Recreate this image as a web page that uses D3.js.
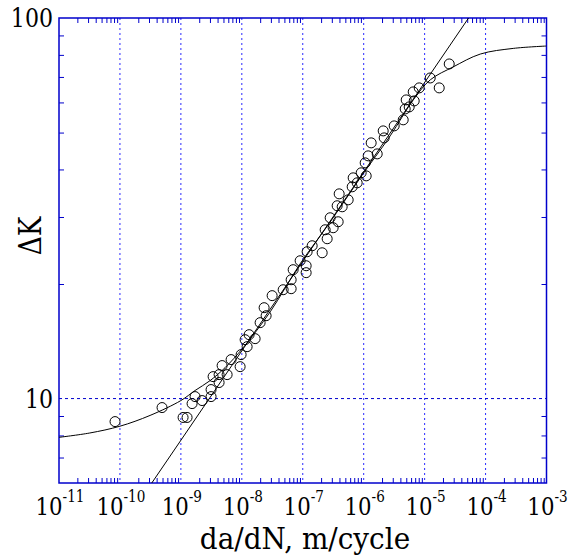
<!DOCTYPE html>
<html>
<head>
<meta charset="utf-8">
<script src="https://cdn.jsdelivr.net/npm/d3@7"></script>
<style>
  html, body { margin: 0; padding: 0; background: #fff; }
</style>
</head>
<body>
<div id="chart"></div>
<script>
  // measured points
  const dadN = [
    8.31e-11, 4.91e-10, 1.087e-9, 1.264e-9, 1.527e-9, 1.71e-9, 2.229e-9, 3.13e-9, 3.13e-9, 3.38e-9,
    4.24e-9, 4.24e-9, 5.74e-9, 4.75e-9, 6.67e-9, 9.38e-9, 9.74e-9, 1.133e-8, 1.222e-8, 1.318e-8,
    1.653e-8, 1.997e-8, 2.323e-8, 2.505e-8, 3.145e-8, 4.77e-8, 6.45e-8, 6.45e-8, 6.96e-8, 9.06e-8,
    1.137e-7, 1.137e-7, 1.181e-7, 1.427e-7, 2.083e-7, 2.332e-7, 2.516e-7, 2.818e-7, 3.155e-7, 3.813e-7,
    3.671e-7, 4.436e-7, 3.96e-7, 5.564e-7, 6.474e-7, 6.723e-7, 7.818e-7, 9.09e-7, 1.099e-6, 1.058e-6,
    1.185e-6, 1.327e-6, 1.666e-6, 2.09e-6, 2.171e-6, 3.167e-6, 4.451e-6, 4.8e-6, 4.985e-6, 5.585e-6,
    6.497e-6, 6.747e-6, 8.15e-6, 1.235e-5, 1.736e-5, 2.534e-5
  ];
  const deltaK = [
    8.70, 9.47, 8.92, 8.92, 9.70, 10.12, 9.88, 10.12, 10.56, 11.42,
    11.02, 11.56, 11.56, 12.21, 12.66, 12.13, 13.05, 14.28, 13.69, 14.72,
    14.37, 15.83, 17.33, 16.51, 18.64, 19.32, 19.44, 20.52, 21.81, 23.02,
    22.34, 21.42, 24.31, 25.21, 24.16, 27.77, 26.30, 29.86, 28.11, 29.15,
    32.11, 31.91, 34.51, 33.28, 36.01, 38.02, 36.89, 39.19, 38.48, 41.63,
    43.43, 46.98, 43.95, 50.51, 48.42, 52.06, 54.0, 57.69, 60.92, 58.39,
    63.95, 60.55, 65.52, 69.57, 65.52, 75.73
  ];

  // fitted sigmoidal curve
  const curveDadN = [1e-11, 3.2e-11, 1e-10, 3.12e-10, 1e-9, 1.71e-9, 3.02e-9, 5.32e-9, 1.05e-8, 2.92e-8,
    9.06e-8, 2.82e-7, 8.76e-7, 2.72e-6, 6.5e-6, 1.24e-5, 2.95e-5, 8.2e-5, 2.85e-4, 1e-3];
  const curveK = [7.91, 8.12, 8.46, 9.03, 9.88, 10.5, 11.15, 12.06, 13.6, 16.9,
    22.6, 29.1, 38.0, 49.0, 60.9, 68.8, 74.4, 80.4, 83.2, 84.4];

  // power-law line
  const lineDadN = [3.33e-10, 5.26e-5];
  const lineK = [6, 100];

  const xTickValues = [1e-11, 1e-10, 1e-9, 1e-8, 1e-7, 1e-6, 1e-5, 1e-4, 1e-3];
  const xTickExps = ["-11", "-10", "-9", "-8", "-7", "-6", "-5", "-4", "-3"];
  const yTickValues = [10, 100];
  const yTickLabels = ["10", "100"];

  const width = 580, height = 559;
  const margin = { left: 59, right: 33.5, top: 18, bottom: 76 };
  const blue = "#0000cc";
  const narrow = 0.85; // squeeze DejaVu Serif toward Times proportions

  const x = d3.scaleLog().domain([1e-11, 1e-3]).range([margin.left, width - margin.right]);
  const y = d3.scaleLog().domain([6, 100]).range([height - margin.bottom, margin.top]);
  const [x0, x1] = x.range();
  const [y0, y1] = y.range(); // y0 bottom, y1 top

  const svg = d3.select("#chart").append("svg")
    .attr("width", width).attr("height", height)
    .attr("viewBox", `0 0 ${width} ${height}`)
    .style("font-family", "DejaVu Serif");

  svg.append("defs").append("clipPath").attr("id", "plot")
    .append("rect").attr("x", x0).attr("y", y1).attr("width", x1 - x0).attr("height", y0 - y1);

  // grid lines
  svg.append("g").selectAll("line.vgrid")
    .data(xTickValues.slice(1, -1))
    .enter().append("line")
    .attr("x1", (d) => x(d)).attr("x2", (d) => x(d))
    .attr("y1", y1).attr("y2", y0)
    .attr("stroke", "#2a2aff").attr("stroke-width", 1)
    .attr("stroke-dasharray", "2,3");
  svg.append("line")
    .attr("x1", x0).attr("x2", x1)
    .attr("y1", y(10)).attr("y2", y(10))
    .attr("stroke", blue).attr("stroke-width", 1)
    .attr("stroke-dasharray", "3,3");

  // minor ticks on all four sides
  const xMinor = x.ticks().filter((d) => !xTickValues.includes(d));
  const yMinor = y.ticks().filter((d) => !yTickValues.includes(d) && d > 6);
  const tickStyle = (g) => {
    g.select(".domain").remove();
    g.selectAll(".tick line").attr("stroke", blue).attr("stroke-width", 1);
  };
  svg.append("g").attr("transform", `translate(0,${y0})`)
    .call(d3.axisBottom(x).tickValues(xMinor).tickSize(-5).tickFormat(""))
    .call(tickStyle);
  svg.append("g").attr("transform", `translate(0,${y1})`)
    .call(d3.axisTop(x).tickValues(xMinor).tickSize(-5).tickFormat(""))
    .call(tickStyle);
  svg.append("g").attr("transform", `translate(${x0},0)`)
    .call(d3.axisLeft(y).tickValues(yMinor).tickSize(-5).tickFormat(""))
    .call(tickStyle);
  svg.append("g").attr("transform", `translate(${x1},0)`)
    .call(d3.axisRight(y).tickValues(yMinor).tickSize(-5).tickFormat(""))
    .call(tickStyle);

  // frame
  svg.append("rect")
    .attr("x", x0).attr("y", y1).attr("width", x1 - x0).attr("height", y0 - y1)
    .attr("fill", "none").attr("stroke", blue).attr("stroke-width", 1.5);

  // fit lines
  const plot = svg.append("g").attr("clip-path", "url(#plot)");
  const straight = d3.line().x((d) => x(d[0])).y((d) => y(d[1]));
  plot.append("path")
    .attr("d", straight(d3.zip(lineDadN, lineK)))
    .attr("fill", "none").attr("stroke", "#000").attr("stroke-width", 1);
  const smooth = d3.line().x((d) => x(d[0])).y((d) => y(d[1])).curve(d3.curveCatmullRom);
  plot.append("path")
    .attr("d", smooth(d3.zip(curveDadN, curveK)))
    .attr("fill", "none").attr("stroke", "#000").attr("stroke-width", 1);

  // data markers
  svg.append("g").selectAll("circle")
    .data(d3.zip(dadN, deltaK))
    .enter().append("circle")
    .attr("cx", (d) => x(d[0])).attr("cy", (d) => y(d[1]))
    .attr("r", 5)
    .attr("fill", "none").attr("stroke", "#000").attr("stroke-width", 1);

  // x tick labels 10^n
  const xl = svg.append("g").selectAll("text.xt")
    .data(d3.zip(xTickValues, xTickExps))
    .enter().append("text")
    .attr("transform", (d) => `translate(${x(d[0]) + 1},${y0 + 32}) scale(${narrow},1)`)
    .attr("text-anchor", "middle")
    .attr("font-size", 25);
  xl.append("tspan").text("10");
  xl.append("tspan").attr("dy", -13).attr("font-size", 16).text((d) => d[1]);

  // y tick labels
  svg.append("g").selectAll("text.yt")
    .data(d3.zip(yTickValues, yTickLabels))
    .enter().append("text")
    .attr("transform", (d) => `translate(${x0 - 6},${y(d[0])}) scale(${narrow},1)`)
    .attr("dy", "0.36em")
    .attr("text-anchor", "end")
    .attr("font-size", 26)
    .text((d) => d[1]);

  // axis titles
  svg.append("text")
    .attr("transform", `translate(305,549) scale(0.93,1)`)
    .attr("text-anchor", "middle").attr("font-size", 30)
    .text("da/dN, m/cycle");
  svg.append("text")
    .attr("transform", `translate(41,236) rotate(-90) scale(${narrow},1)`)
    .attr("text-anchor", "middle").attr("font-size", 31)
    .text("ΔK");
  svg.append("text")
    .attr("transform", `translate(2,575) scale(${narrow},1)`)
    .attr("text-anchor", "end").attr("font-size", 32)
    .text("(a)");
</script>
</body>
</html>
